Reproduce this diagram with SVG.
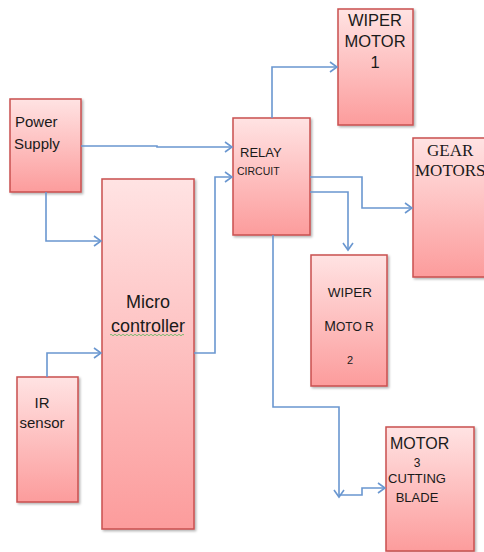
<svg xmlns="http://www.w3.org/2000/svg" width="484" height="552" viewBox="0 0 484 552">
<defs>
<linearGradient id="g" x1="0" y1="0" x2="0" y2="1">
<stop offset="0" stop-color="#ffe3e3"/>
<stop offset="1" stop-color="#fc9c9c"/>
</linearGradient>
<filter id="sh" x="-10%" y="-10%" width="130%" height="130%">
<feDropShadow dx="1.5" dy="1.5" stdDeviation="1" flood-color="#000" flood-opacity="0.3"/>
</filter>
<marker id="ah" markerWidth="10" markerHeight="12" refX="8" refY="6" orient="auto" markerUnits="userSpaceOnUse">
<path d="M1,1 L8,6 L1,11" fill="none" stroke="#6a97d0" stroke-width="1.6"/>
</marker>
</defs>
<style>
.box{fill:url(#g);stroke:#c9504f;stroke-width:1.5;filter:url(#sh)}
.ln{fill:none;stroke:#6a97d0;stroke-width:1.6}
.s{font-family:"Liberation Sans",Arial,sans-serif;fill:#1a1a1a}
.t{font-family:"Liberation Serif","Times New Roman",serif;fill:#1a1a1a}
</style>
<rect width="484" height="552" fill="#fff"/>
<g id="power-supply">
<rect class="box" x="10" y="99" width="71" height="93"/>
<text class="s" x="15" y="127" font-size="15">Power</text>
<text class="s" x="14" y="149" font-size="15">Supply</text>
</g>
<g id="microcontroller">
<rect class="box" x="102" y="179" width="92" height="350"/>
<text class="s" x="148" y="308" font-size="18" text-anchor="middle">Micro</text>
<text class="s" x="148" y="332" font-size="18" text-anchor="middle">controller</text>
<path d="M110,335 q1,-1.5 2,0 t2,0 t2,0 t2,0 t2,0 t2,0 t2,0 t2,0 t2,0 t2,0 t2,0 t2,0 t2,0 t2,0 t2,0 t2,0 t2,0 t2,0 t2,0 t2,0 t2,0 t2,0 t2,0 t2,0 t2,0 t2,0 t2,0 t2,0 t2,0 t2,0 t2,0 t2,0 t2,0 t2,0 t2,0 t2,0 t2,0" fill="none" stroke="#5cb85c" stroke-width="0.8"/>
</g>
<g id="ir-sensor">
<rect class="box" x="17" y="377" width="61" height="125"/>
<text class="s" x="42" y="408" font-size="15" text-anchor="middle">IR</text>
<text class="s" x="42" y="428" font-size="15" text-anchor="middle">sensor</text>
</g>
<g id="relay">
<rect class="box" x="233" y="118" width="77" height="117"/>
<text class="s" x="240" y="157" font-size="13">RELAY</text>
<text class="s" x="237" y="175" font-size="10.5">CIRCUIT</text>
</g>
<g id="wiper-motor-1">
<rect class="box" x="338" y="9" width="75" height="116"/>
<text class="s" x="375" y="26" font-size="16.5" text-anchor="middle">WIPER</text>
<text class="s" x="375" y="47" font-size="16.5" text-anchor="middle">MOTOR</text>
<text class="s" x="375" y="68" font-size="16.5" text-anchor="middle">1</text>
</g>
<g id="gear-motors">
<rect class="box" x="413" y="138" width="75" height="139"/>
<text class="t" x="427" y="156" font-size="17">GEAR</text>
<text class="t" x="415" y="176" font-size="17">MOTORS</text>
</g>
<g id="wiper-motor-2">
<rect class="box" x="311" y="255" width="76" height="131"/>
<text class="s" x="350" y="297" font-size="13.5" text-anchor="middle">WIPER</text>
<text class="s" x="349" y="331" font-size="12" text-anchor="middle"><tspan font-size="14">M</tspan>OTO R</text>
<text class="s" x="350" y="364" font-size="11" text-anchor="middle">2</text>
</g>
<g id="motor-3">
<rect class="box" x="386" y="427" width="88" height="124"/>
<text class="s" x="390" y="449" font-size="16">MOTOR</text>
<text class="s" x="417" y="467" font-size="12" text-anchor="middle">3</text>
<text class="s" x="417" y="483" font-size="13" text-anchor="middle">CUTTING</text>
<text class="s" x="417" y="502" font-size="13" text-anchor="middle">BLADE</text>
</g>
<g id="connectors">
<path class="ln" d="M81,146 L157,146 L157,147 L232,147" marker-end="url(#ah)"/>
<path class="ln" d="M46,192 L46,241 L101,241" marker-end="url(#ah)"/>
<path class="ln" d="M47,377 L47,353 L101,353" marker-end="url(#ah)"/>
<path class="ln" d="M194,353 L215,353 L215,177 L232,177" marker-end="url(#ah)"/>
<path class="ln" d="M272,118 L272,67 L337,67" marker-end="url(#ah)"/>
<path class="ln" d="M310,177 L362,177 L362,208 L412,208" marker-end="url(#ah)"/>
<path class="ln" d="M310,192 L348,192 L348,250" marker-end="url(#ah)"/>
<path class="ln" d="M273,235 L273,407 L339,407 L339,497" marker-end="url(#ah)"/>
<path class="ln" d="M339,495 L362,495 L362,488 L385,488" marker-end="url(#ah)"/>
</g>
</svg>
